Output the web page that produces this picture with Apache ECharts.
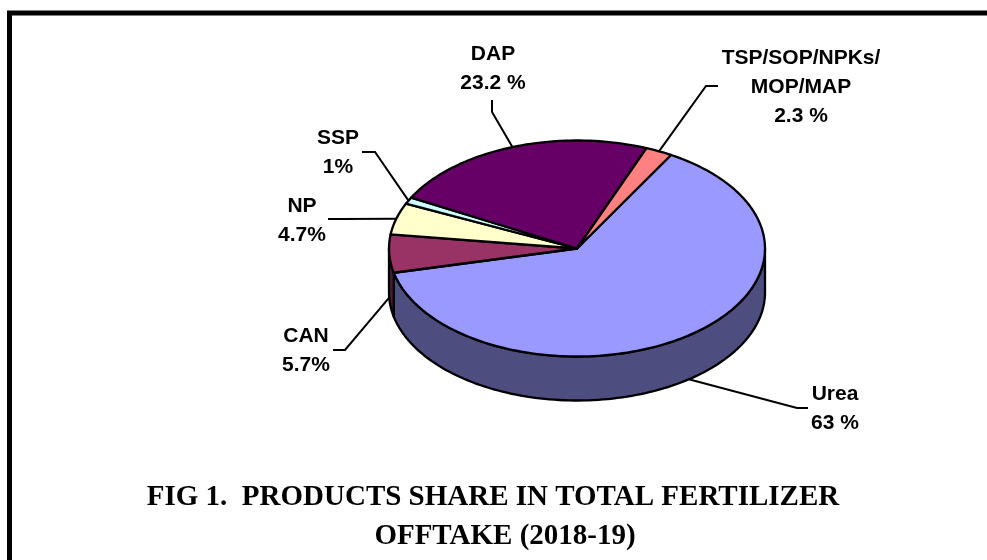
<!DOCTYPE html>
<html>
<head>
<meta charset="utf-8">
<style>
  html, body { margin: 0; padding: 0; background: #fff; }
  #chart { width: 987px; height: 560px; }
</style>
<script src="https://cdn.jsdelivr.net/npm/echarts@6/dist/echarts.min.js"></script>
</head>
<body>
<div id="chart"></div>
<script>
  // chart data
  var categories = ['Urea', 'CAN', 'NP', 'SSP', 'DAP', 'TSP/SOP/NPKs/\nMOP/MAP'];
  var shares = [63, 5.7, 4.7, 1, 23.2, 2.3];
  var shareLabels = ['63 %', '5.7%', '4.7%', '1%', '23.2 %', '2.3 %'];
  var topColors = ['#9999ff', '#993366', '#ffffcc', '#ccffff', '#660066', '#ff8080'];
  var sideColors = ['#4d4d80', '#4d1933', '#808066', '#668080', '#330033', '#804040'];
  var titleLines = ['FIG 1.  PRODUCTS SHARE IN TOTAL FERTILIZER', 'OFFTAKE (2018-19)'];

  // pie geometry
  var cx = 577, cy = 248.5, rx = 188, ry = 108, depth = 44, startAngle = 30;

  // label centre + leader elbow/end for each slice
  var labelPos = [[835, 409], [306, 351], [302, 220.5], [338, 153], [493, 68.5], [801, 87]];
  var leaders = [
    [[797, 408], [808, 408]],
    [[345, 350], [333, 350]],
    [[340, 219], [328, 219]],
    [[375, 152], [362, 152]],
    [[492, 112], [492, 100]],
    [[706, 86], [718, 86]]
  ];

  var total = shares.reduce(function (a, b) { return a + b }, 0);
  var slices = [];
  var acc = startAngle;
  shares.forEach(function (v) {
    var sweep = v / total * 360;
    slices.push([acc, acc + sweep]);
    acc += sweep;
  });

  function pt(deg, dy) {
    var a = deg * Math.PI / 180;
    return [cx + rx * Math.sin(a), cy - ry * Math.cos(a) + (dy || 0)];
  }

  function arc(from, to, dy) {
    var pts = [];
    var n = Math.max(2, Math.ceil((to - from) / 1.5));
    for (var i = 0; i <= n; i++) {
      pts.push(pt(from + (to - from) * i / n, dy));
    }
    return pts;
  }

  var lineStyle = { stroke: '#000', lineWidth: 2.3, lineJoin: 'round' };

  function renderSide(params) {
    var s = slices[params.dataIndex];
    var from = Math.max(s[0], 90), to = Math.min(s[1], 270);
    if (to <= from) return { type: 'group', children: [] };
    var pts = arc(from, to, 0).concat(arc(from, to, depth).reverse());
    return {
      type: 'polygon',
      shape: { points: pts },
      style: Object.assign({ fill: sideColors[params.dataIndex] }, lineStyle)
    };
  }

  function renderTop(params) {
    var s = slices[params.dataIndex];
    var pts = [[cx, cy]].concat(arc(s[0], s[1], 0));
    return {
      type: 'polygon',
      shape: { points: pts },
      style: Object.assign({ fill: topColors[params.dataIndex] }, lineStyle)
    };
  }

  function renderLabel(params) {
    var i = params.dataIndex;
    var s = slices[i];
    var mid = (s[0] + s[1]) / 2;
    var a = ((mid % 360) + 360) % 360;
    var onSide = a > 90 && a < 270;
    var anchor = pt(mid, onSide ? depth : 0);
    return {
      type: 'group',
      children: [{
        type: 'polyline',
        shape: { points: [anchor].concat(leaders[i]) },
        style: { stroke: '#000', lineWidth: 2, fill: null }
      }, {
        type: 'text',
        x: labelPos[i][0],
        y: labelPos[i][1],
        style: {
          text: categories[i] + '\n' + shareLabels[i],
          fill: '#000',
          font: 'bold 21px "Liberation Sans", Arial, sans-serif',
          lineHeight: 29,
          align: 'center',
          verticalAlign: 'middle'
        }
      }]
    };
  }

  var titleStyle = {
    fontFamily: '"Liberation Serif", "Times New Roman", serif',
    fontWeight: 'bold',
    fontSize: 29,
    color: '#000'
  };

  var chart = echarts.init(document.getElementById('chart'), null, { renderer: 'canvas' });
  chart.setOption({
    animation: false,
    backgroundColor: '#fff',
    title: [
      { text: titleLines[0], left: 488, top: 478, textAlign: 'center', textStyle: titleStyle },
      { text: titleLines[1], left: 500, top: 517, textAlign: 'center', textStyle: titleStyle }
    ],
    graphic: [{
      type: 'polyline',
      shape: { points: [[9.5, 560], [9.5, 13], [987, 13]] },
      style: { stroke: '#000', lineWidth: 5, fill: null }
    }],
    series: [
      { type: 'custom', coordinateSystem: 'none', renderItem: renderSide, data: shares, silent: true, z: 2 },
      { type: 'custom', coordinateSystem: 'none', renderItem: renderTop, data: shares, silent: true, z: 3 },
      { type: 'custom', coordinateSystem: 'none', renderItem: renderLabel, data: shares, silent: true, z: 4 }
    ]
  });
</script>
</body>
</html>
